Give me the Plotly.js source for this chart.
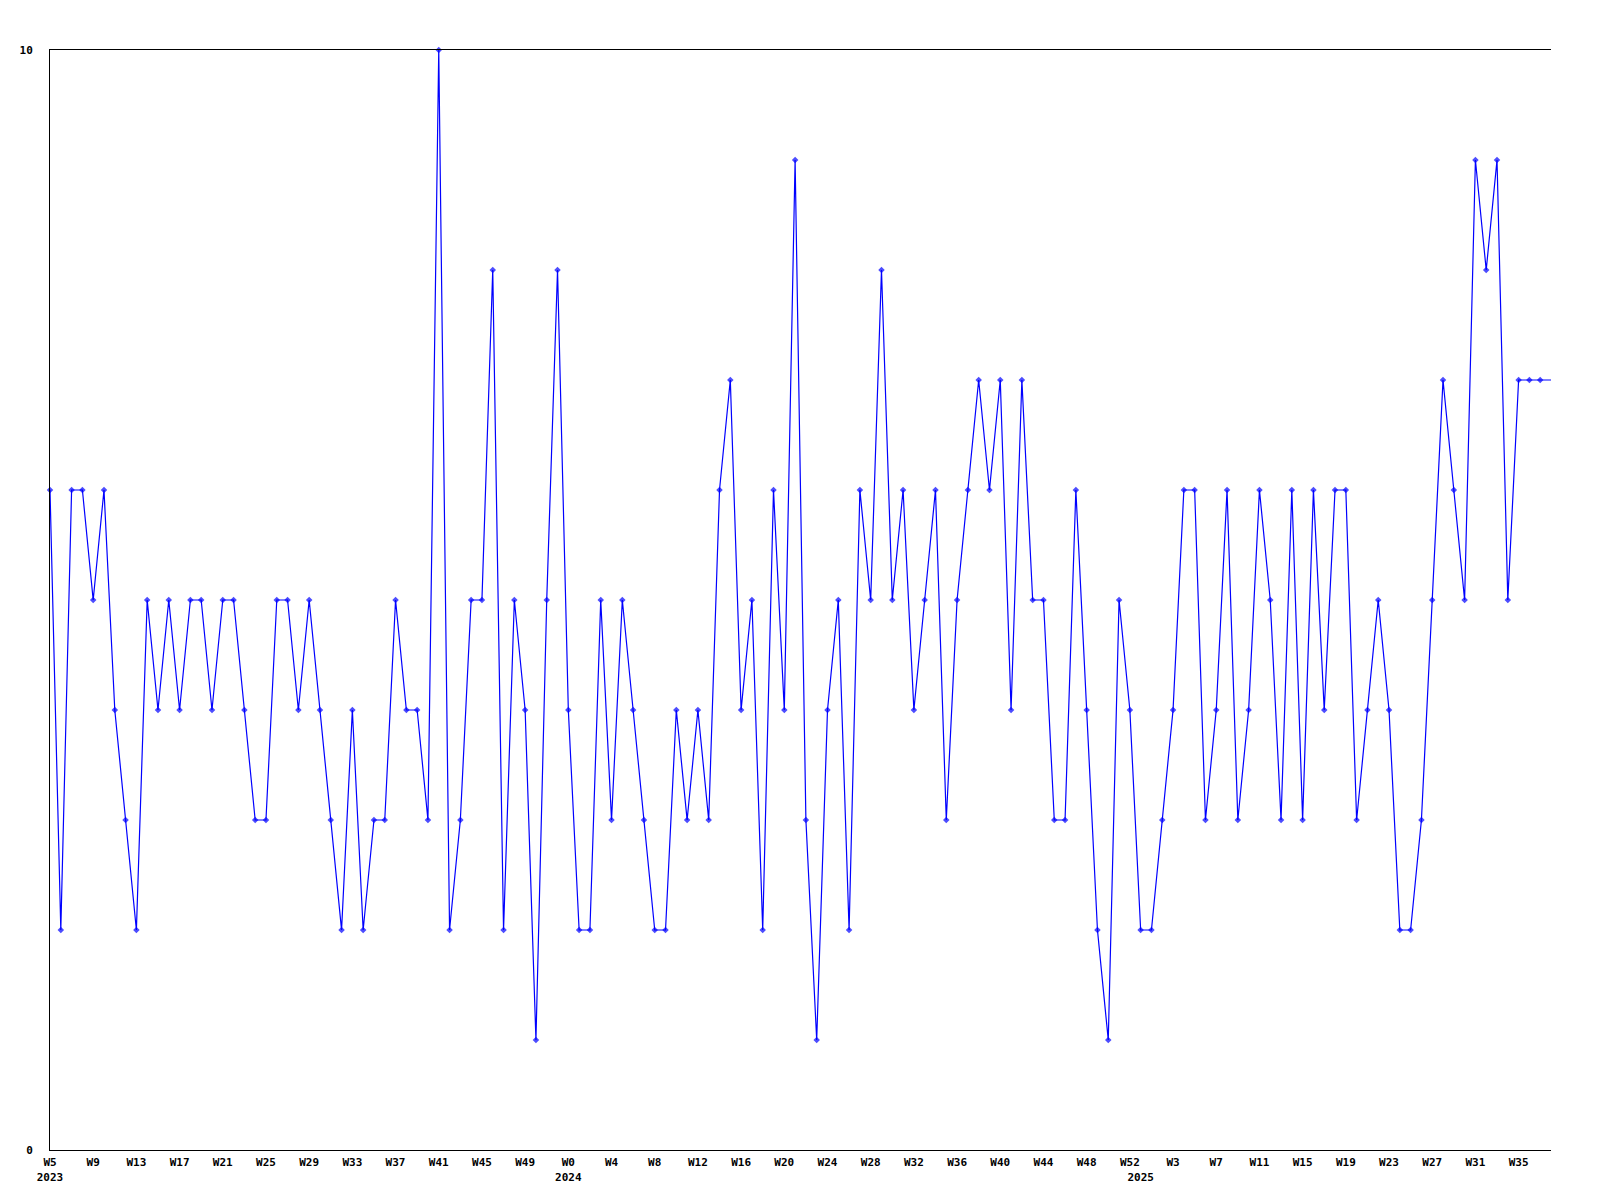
<!DOCTYPE html>
<html>
<head>
<meta charset="utf-8">
<script src="https://cdn.plot.ly/plotly-3.0.1.min.js"></script>
<style>html,body{margin:0;padding:0;background:#fff;}#chart{width:1600px;height:1200px;}</style>
</head>
<body>
<div id="chart"></div>
<script>
// Week numbers present for each year (categories)
const weeks2023 = [5,6,7,8,9,10,11,12,13,14,15,16,17,18,19,20,21,22,23,24,25,26,27,28,29,30,31,32,33,34,35,36,37,38,39,40,41,42,43,44,45,46,47,48,49,50,51,52];
const weeks2024 = [0,1,2,3,4,5,6,7,8,9,10,11,12,13,14,15,16,17,18,19,20,21,22,23,24,25,26,27,28,29,30,31,32,33,34,35,36,37,38,39,40,41,42,43,44,45,46,47,48,49,50,51,52];
const weeks2025 = [0,1,2,3,4,5,6,7,8,9,10,11,12,13,14,15,16,17,18,19,20,21,22,23,24,25,26,27,28,29,30,31,32,33,34,35,36,37,38];
const years = [2023, 2024, 2025];

// Weekly values
const values = [
  6,2,6,6,5,6,4,3,2,5,
  4,5,4,5,5,4,5,5,4,3,
  3,5,5,4,5,4,3,2,4,2,
  3,3,5,4,4,3,10,2,3,5,
  5,8,2,5,4,1,5,8,4,2,
  2,5,3,5,4,3,2,2,4,3,
  4,3,6,7,4,5,2,6,4,9,
  3,1,4,5,2,6,5,8,5,6,
  4,5,6,3,5,6,7,6,7,4,
  7,5,5,3,3,6,4,2,1,5,
  4,2,2,3,4,6,6,3,4,6,
  3,4,6,5,3,6,3,6,4,6,
  6,3,4,5,4,2,2,3,5,7,
  6,5,9,8,9,5,7,7,7,7
];

const yTickVals = [0, 10];

// Build category list
const weekLists = [weeks2023, weeks2024, weeks2025];
const cats = [];
weekLists.forEach((wl, yi) => wl.forEach((w, k) => cats.push({year: years[yi], week: w, first: k === 0})));
const xs = cats.map((c, i) => i);

// Tick labels: every 4th week, plus the year on the first week of each year
const tickvals = [], ticktext = [];
cats.forEach((c, i) => {
  const isWeekTick = i % 4 === 0;
  if (isWeekTick && c.first) { tickvals.push(i); ticktext.push('W' + c.week + '<br>' + c.year); }
  else if (isWeekTick) { tickvals.push(i); ticktext.push('W' + c.week); }
  else if (c.first) { tickvals.push(i); ticktext.push(' <br>' + c.year); }
});

const sizes = values.map((v, i) => i === values.length - 1 ? 0 : 5);

const font = {family: '"DejaVu Sans Mono", "Liberation Mono", monospace', size: 11, color: '#000'};

Plotly.newPlot('chart', [{
  type: 'scatter',
  mode: 'lines+markers',
  x: xs,
  y: values,
  line: {color: '#0000ff', width: 1.2},
  marker: {symbol: 'diamond', size: sizes, color: '#0000ff', line: {width: 0}},
  cliponaxis: false,
  hoverinfo: 'skip'
}], {
  width: 1600,
  height: 1200,
  paper_bgcolor: '#ffffff',
  plot_bgcolor: '#ffffff',
  showlegend: false,
  margin: {l: 50, r: 49, t: 50, b: 50, pad: 0},
  font: font,
  xaxis: {
    range: [0, xs.length - 1],
    tickmode: 'array',
    tickvals: tickvals,
    ticktext: ticktext,
    tickangle: 0,
    showgrid: false,
    zeroline: false,
    showline: true,
    linecolor: '#000',
    linewidth: 1,
    mirror: true,
    ticks: '',
    ticklabelstandoff: 2,
    tickfont: {family: font.family, size: 11, color: '#000', weight: 'bold'}
  },
  yaxis: {
    range: [0, 10],
    tickmode: 'array',
    tickvals: yTickVals,
    ticktext: yTickVals.map(String),
    showgrid: false,
    zeroline: false,
    showline: true,
    linecolor: '#000',
    linewidth: 1,
    ticks: '',
    ticklabelstandoff: 14,
    tickfont: {family: font.family, size: 11, color: '#000', weight: 'bold'}
  }
}, {displayModeBar: false, staticPlot: true});
</script>
</body>
</html>
